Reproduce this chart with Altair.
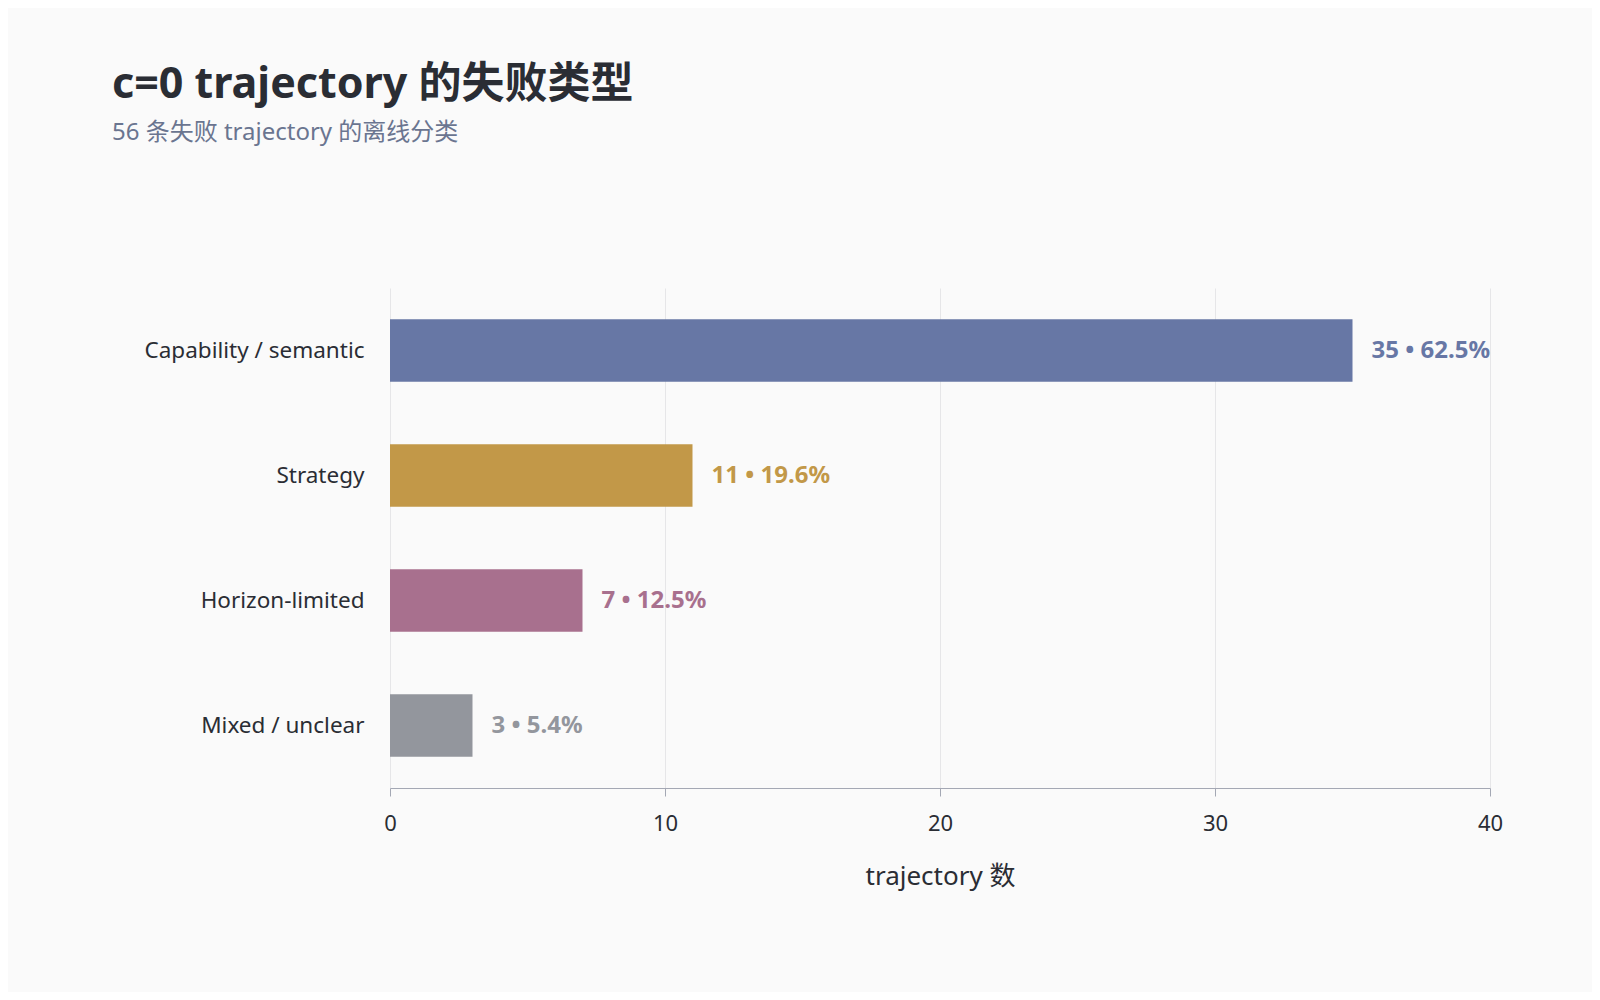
import altair as alt
import pandas as pd

# ─── Data ─────────────────────────────────────────────────────────────────────
categories = ["Capability / semantic", "Strategy", "Horizon-limited", "Mixed / unclear"]
counts     = [35, 11, 7, 3]
shares     = [62.5, 19.6, 12.5, 5.4]
colors     = ["#6777a5", "#c29848", "#a8708e", "#93969d"]
x_ticks    = [0, 10, 20, 30, 40]

FONT = "Noto Sans, Noto Sans CJK SC"

df = pd.DataFrame({
    "category": categories,
    "count": counts,
    "label": [f"{c} • {s}%" for c, s in zip(counts, shares)],
})

color_scale = alt.Scale(domain=categories, range=colors)

base = alt.Chart(df).encode(
    y=alt.Y("category:N", sort=categories, title=None,
            scale=alt.Scale(paddingInner=0.5, paddingOuter=0.25),
            axis=alt.Axis(domain=False, ticks=False, labelFontSize=22.5,
                          labelColor="#2a2d34", labelPadding=26, labelFont=FONT,
                          labelLimit=400, grid=False)),
)

bars = base.mark_bar().encode(
    x=alt.X("count:Q", title="trajectory 数",
            scale=alt.Scale(domain=[0, 40]),
            axis=alt.Axis(values=x_ticks, labelFontSize=22, labelFlush=False,
                          labelColor="#2a2d34", titleFontSize=26,
                          titleColor="#2a2d34", titleFontWeight="normal",
                          titlePadding=29, labelPadding=17, tickSize=8,
                          domainColor="#a4a8b4", tickColor="#a4a8b4",
                          gridColor="#e6e6e8", labelFont=FONT, titleFont=FONT)),
    color=alt.Color("category:N", scale=color_scale, legend=None),
)

labels = base.mark_text(align="left", baseline="middle", dx=19,
                        fontSize=24, fontWeight="bold", font=FONT).encode(
    x="count:Q",
    text="label:N",
    color=alt.Color("category:N", scale=color_scale, legend=None),
)

chart = (bars + labels).properties(
    width=1100,
    height=500,
    autosize=alt.AutoSizeParams(type="none"),
    padding={"left": 382, "top": 280, "right": 102, "bottom": 204},
    background="#fafafa",
    title=alt.TitleParams(
        "c=0 trajectory 的失败类型",
        subtitle="56 条失败 trajectory 的离线分类",
        anchor="start", frame="group", dx=-278, offset=143,
        font=FONT, fontSize=43, fontWeight="bold", color="#2a2d34",
        subtitleFont=FONT, subtitleFontSize=24, subtitleColor="#6a7590",
        subtitlePadding=14,
    ),
).configure_view(strokeWidth=0)

chart.save("out.html", embed_options={"renderer": "svg", "actions": False})
